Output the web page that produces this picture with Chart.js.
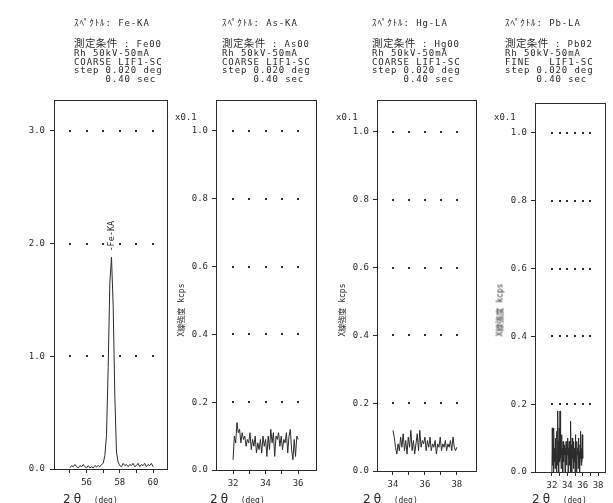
<!DOCTYPE html>
<html>
<head>
<meta charset="utf-8">
<script src="https://cdn.jsdelivr.net/npm/chart.js@4.4.0/dist/chart.umd.min.js"></script>
<style>
body { margin: 0; background: #fff; width: 613px; height: 503px; overflow: hidden; position: relative;
       font-family: "DejaVu Sans Mono", "Noto Sans CJK JP", monospace; color: #2b2b2b; }
canvas { position: absolute; left: 0; top: 0; }
.ln { position: absolute; font-size: 9px; letter-spacing: 0.9px; white-space: pre; line-height: 9px; }
.kj { font-size: 10.5px; letter-spacing: 0.4px; }
.ytitle { position: absolute; font-size: 8px; white-space: pre; transform: translate(-50%, -50%) rotate(-90deg); }
.xtitle { position: absolute; white-space: pre; }
.xtitle .big { font-family: "DejaVu Sans", sans-serif; font-size: 12px; letter-spacing: 3px; }
.xtitle .small { font-size: 8px; }
.scale { position: absolute; font-size: 9px; }
</style>
</head>
<body>
<script>
// spectrum names and measuring conditions
const spectra = ['Fe-KA', 'As-KA', 'Hg-LA', 'Pb-LA'];
const condCodes = ['Fe00', 'As00', 'Hg00', 'Pb02'];
const slits = ['COARSE', 'COARSE', 'COARSE', 'FINE  '];

// tick values
const feXTicks = [55, 56, 57, 58, 59, 60];
const feYTicks = [0, 1, 2, 3];
const asXTicks = [32, 33, 34, 35, 36];
const hgXTicks = [34, 35, 36, 37, 38];
const pbXTicks = [32, 33, 34, 35, 36, 37, 38];
const pbDots = [32, 33, 34, 35, 36, 37];
const lowYTicks = [0, 0.2, 0.4, 0.6, 0.8, 1.0];

// Fe-KA (kcps)
const feX = [55.0, 55.1, 55.2, 55.3, 55.4, 55.5, 55.6, 55.7, 55.8, 55.9,
             56.0, 56.1, 56.2, 56.3, 56.4, 56.5, 56.6, 56.7, 56.8, 56.9,
             57.0, 57.1, 57.2, 57.3, 57.4, 57.5, 57.6, 57.7, 57.8, 57.9,
             58.0, 58.1, 58.2, 58.3, 58.4, 58.5, 58.6, 58.7, 58.8, 58.9,
             59.0, 59.1, 59.2, 59.3, 59.4, 59.5, 59.6, 59.7, 59.8, 59.9, 60.0];
const feY = [0.01, 0.03, 0.02, 0.04, 0.02, 0.01, 0.03, 0.02, 0.04, 0.02,
             0.01, 0.03, 0.01, 0.02, 0.01, 0.03, 0.02, 0.03, 0.02, 0.04,
             0.05, 0.12, 0.30, 0.90, 1.65, 1.88, 1.45, 0.65, 0.15, 0.06,
             0.03, 0.02, 0.05, 0.03, 0.04, 0.02, 0.04, 0.03, 0.05, 0.02,
             0.03, 0.05, 0.02, 0.04, 0.03, 0.05, 0.02, 0.04, 0.03, 0.05, 0.02];

// As-KA (x0.1 kcps)
const asX = [32.00, 32.08, 32.16, 32.24, 32.32, 32.40, 32.48, 32.56, 32.64, 32.72,
             32.80, 32.88, 32.96, 33.04, 33.12, 33.20, 33.28, 33.36, 33.44, 33.52,
             33.60, 33.68, 33.76, 33.84, 33.92, 34.00, 34.08, 34.16, 34.24, 34.32,
             34.40, 34.48, 34.56, 34.64, 34.72, 34.80, 34.88, 34.96, 35.04, 35.12,
             35.20, 35.28, 35.36, 35.44, 35.52, 35.60, 35.68, 35.76, 35.84, 35.92, 36.00];
const asY = [0.03, 0.10, 0.08, 0.14, 0.11, 0.12, 0.08, 0.11, 0.09, 0.10,
             0.07, 0.09, 0.08, 0.11, 0.06, 0.09, 0.07, 0.10, 0.05, 0.08,
             0.06, 0.09, 0.05, 0.10, 0.07, 0.09, 0.04, 0.10, 0.06, 0.12,
             0.08, 0.11, 0.04, 0.10, 0.09, 0.11, 0.07, 0.10, 0.06, 0.09,
             0.08, 0.11, 0.05, 0.10, 0.12, 0.06, 0.03, 0.09, 0.04, 0.10, 0.09];

// Hg-LA (x0.1 kcps)
const hgX = [34.00, 34.08, 34.16, 34.24, 34.32, 34.40, 34.48, 34.56, 34.64, 34.72,
             34.80, 34.88, 34.96, 35.04, 35.12, 35.20, 35.28, 35.36, 35.44, 35.52,
             35.60, 35.68, 35.76, 35.84, 35.92, 36.00, 36.08, 36.16, 36.24, 36.32,
             36.40, 36.48, 36.56, 36.64, 36.72, 36.80, 36.88, 36.96, 37.04, 37.12,
             37.20, 37.28, 37.36, 37.44, 37.52, 37.60, 37.68, 37.76, 37.84, 37.92, 38.00];
const hgY = [0.12, 0.10, 0.07, 0.05, 0.08, 0.06, 0.10, 0.07, 0.11, 0.06,
             0.09, 0.05, 0.10, 0.07, 0.12, 0.06, 0.09, 0.05, 0.08, 0.11,
             0.06, 0.12, 0.07, 0.09, 0.08, 0.10, 0.06, 0.09, 0.07, 0.10,
             0.06, 0.08, 0.07, 0.09, 0.05, 0.08, 0.07, 0.10, 0.06, 0.08,
             0.07, 0.09, 0.06, 0.08, 0.07, 0.09, 0.06, 0.10, 0.07, 0.06, 0.07];

// Pb-LA (x0.1 kcps)
const pbX = [32.00, 32.05, 32.10, 32.15, 32.20, 32.25, 32.30, 32.35, 32.40, 32.45,
             32.50, 32.55, 32.60, 32.65, 32.70, 32.75, 32.80, 32.85, 32.90, 32.95,
             33.00, 33.05, 33.10, 33.15, 33.20, 33.25, 33.30, 33.35, 33.40, 33.45,
             33.50, 33.55, 33.60, 33.65, 33.70, 33.75, 33.80, 33.85, 33.90, 33.95,
             34.00, 34.05, 34.10, 34.15, 34.20, 34.25, 34.30, 34.35, 34.40, 34.45,
             34.50, 34.55, 34.60, 34.65, 34.70, 34.75, 34.80, 34.85, 34.90, 34.95,
             35.00, 35.05, 35.10, 35.15, 35.20, 35.25, 35.30, 35.35, 35.40, 35.45,
             35.50, 35.55, 35.60, 35.65, 35.70, 35.75, 35.80, 35.85, 35.90, 35.95, 36.00];
const pbY = [0.00, 0.13, 0.02, 0.08, 0.00, 0.13, 0.03, 0.07, 0.01, 0.10,
             0.04, 0.06, 0.00, 0.12, 0.02, 0.18, 0.05, 0.09, 0.00, 0.13,
             0.03, 0.18, 0.04, 0.08, 0.01, 0.11, 0.05, 0.07, 0.00, 0.09,
             0.03, 0.06, 0.05, 0.08, 0.00, 0.07, 0.05, 0.09, 0.02, 0.08,
             0.05, 0.10, 0.00, 0.07, 0.04, 0.09, 0.02, 0.07, 0.00, 0.15,
             0.03, 0.08, 0.00, 0.10, 0.04, 0.06, 0.01, 0.09, 0.03, 0.07,
             0.00, 0.11, 0.04, 0.06, 0.00, 0.09, 0.05, 0.07, 0.01, 0.10,
             0.03, 0.06, 0.00, 0.08, 0.04, 0.12, 0.02, 0.07, 0.03, 0.11, 0.04];

const INK = '#2b2b2b';
const W = 613, H = 503;
const AXIS_W = 40, AXIS_H = 30;
const tickFont = { family: '"DejaVu Sans Mono", monospace', size: 9 };

const panels = [
  { x: feX, y: feY, xTicks: feXTicks, yTicks: feYTicks, dots: feXTicks,
    left: 54, right: 167, top: 100, bottom: 469, xMin: 54.04, xMax: 60.84, yMax: 3.275,
    peak: { text: '-Fe-KA', x: 57.5, y: 1.93 }, head: 74, xTitle: 63 },
  { x: asX, y: asY, xTicks: asXTicks, yTicks: lowYTicks, dots: asXTicks,
    left: 216, right: 316, top: 100, bottom: 470, xMin: 30.95, xMax: 37.1, yMax: 1.091,
    head: 222, xTitle: 210 },
  { x: hgX, y: hgY, xTicks: hgXTicks, yTicks: lowYTicks, dots: hgXTicks,
    left: 377, right: 476, top: 100, bottom: 471, xMin: 33.0, xMax: 39.2, yMax: 1.094,
    head: 372, xTitle: 363 },
  { x: pbX, y: pbY, xTicks: pbXTicks, yTicks: lowYTicks, dots: pbDots,
    left: 535, right: 605, top: 103, bottom: 472, xMin: 29.8, xMax: 38.9, yMax: 1.088,
    head: 505, xTitle: 532 }
];

function addText(cls, left, top, html) {
  const d = document.createElement('div');
  d.className = cls;
  d.style.left = left + 'px';
  d.style.top = top + 'px';
  d.innerHTML = html;
  document.body.appendChild(d);
  return d;
}

// frame, dotted grid rows and peak label
function framePlugin(p) {
  return {
    id: 'frame',
    afterDraw(chart) {
      const { ctx, chartArea: a, scales } = chart;
      ctx.save();
      ctx.strokeStyle = INK;
      ctx.lineWidth = 1;
      ctx.strokeRect(Math.round(a.left) + 0.5, Math.round(a.top) + 0.5,
                     Math.round(a.right - a.left), Math.round(a.bottom - a.top));
      ctx.fillStyle = INK;
      p.yTicks.forEach(v => {
        if (v === 0) return;
        const py = scales.y.getPixelForValue(v);
        p.dots.forEach(d => {
          const px = scales.x.getPixelForValue(d);
          ctx.fillRect(Math.round(px) - 1, Math.round(py) - 1, 2, 2);
        });
      });
      if (p.peak) {
        ctx.translate(scales.x.getPixelForValue(p.peak.x), scales.y.getPixelForValue(p.peak.y));
        ctx.rotate(-Math.PI / 2);
        ctx.font = '8.5px "DejaVu Sans Mono", monospace';
        ctx.textAlign = 'left';
        ctx.textBaseline = 'middle';
        ctx.fillText(p.peak.text, 0, 0);
      }
      ctx.restore();
    }
  };
}

panels.forEach((p, i) => {
  const canvas = document.createElement('canvas');
  canvas.width = W;
  canvas.height = H;
  document.body.appendChild(canvas);

  new Chart(canvas, {
    type: 'line',
    data: {
      datasets: [{
        data: p.x.map((v, k) => ({ x: v, y: p.y[k] })),
        borderColor: INK,
        borderWidth: 1,
        pointRadius: 0,
        tension: 0
      }]
    },
    options: {
      responsive: false,
      animation: false,
      layout: { padding: { left: p.left - AXIS_W, right: W - p.right, top: p.top, bottom: H - p.bottom - AXIS_H } },
      plugins: { legend: { display: false }, tooltip: { enabled: false } },
      scales: {
        x: {
          type: 'linear', min: p.xMin, max: p.xMax,
          afterBuildTicks: s => { s.ticks = p.xTicks.map(v => ({ value: v })); },
          afterFit: s => { s.height = AXIS_H; },
          ticks: { autoSkip: false, maxRotation: 0, padding: 4, color: INK, font: tickFont,
                   callback: v => (Math.round(v) % 2 === 0 ? String(v) : '') },
          grid: { drawOnChartArea: false, tickLength: 4, color: INK },
          border: { color: INK }
        },
        y: {
          type: 'linear', min: 0, max: p.yMax,
          afterBuildTicks: s => { s.ticks = p.yTicks.map(v => ({ value: v })); },
          afterFit: s => { s.width = AXIS_W; },
          ticks: { autoSkip: false, padding: i === 0 ? 5 : 4, color: INK, font: tickFont,
                   callback: v => v.toFixed(1) },
          grid: { drawOnChartArea: false, tickLength: 4, color: INK },
          border: { color: INK }
        }
      }
    },
    plugins: [framePlugin(p)]
  });

  // measuring condition block
  addText('ln', p.head, 19, 'ｽﾍﾟｸﾄﾙ: ' + spectra[i]);
  addText('ln', p.head, 39, '<span class="kj">測定条件</span> : ' + condCodes[i]);
  addText('ln', p.head, 49, 'Rh 50kV-50mA');
  addText('ln', p.head, 58, slits[i] + ' LIF1-SC');
  addText('ln', p.head, 66, 'step 0.020 deg');
  addText('ln', p.head, 75, '     0.40 sec');

  addText('xtitle', p.xTitle, 488, '<span class="big">2θ</span> <span class="small">(deg)</span>');
  if (i > 0) {
    addText('scale', p.left - 41, 112, 'x0.1');
    addText('ytitle', p.left - 36, 310, 'X線強度 kcps');
  }
});
</script>
</body>
</html>
